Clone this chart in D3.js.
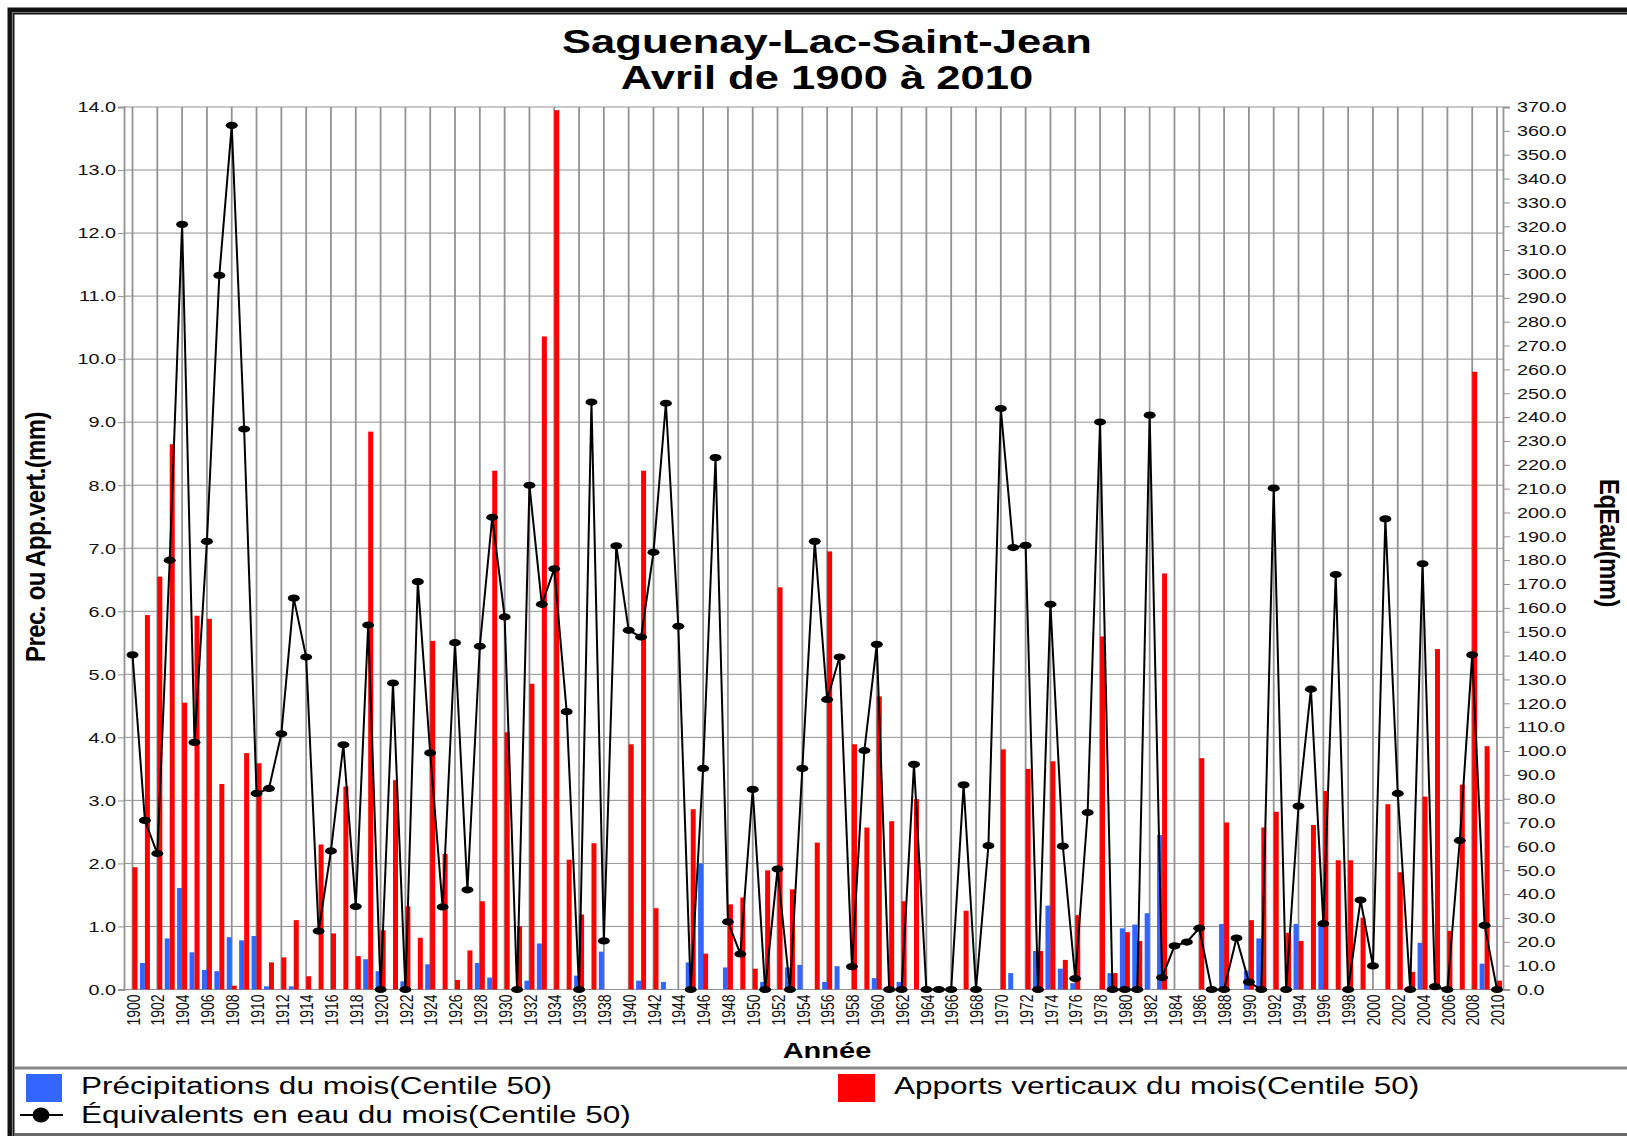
<!DOCTYPE html>
<html>
<head>
<meta charset="utf-8">
<script src="https://cdn.jsdelivr.net/npm/d3@7"></script>
<style>
  body { margin: 0; background: #fff; }
  svg { display: block; font-family: "Liberation Sans", Arial, sans-serif; }
</style>
</head>
<body>
<div id="chart"></div>
<script>
// Avril, 1900-2010
var years = d3.range(1900, 2011);

// Précipitations du mois (mm) - barres bleues
var precip = [
  0, 0.42, 0, 0.81, 1.61, 0.59, 0.31, 0.29, 0.83, 0.78,
  0.85, 0.05, 0, 0.05, 0, 0, 0, 0, 0, 0.48,
  0.29, 0, 0.13, 0, 0.40, 0, 0, 0, 0.42, 0.19,
  0, 0, 0.14, 0.73, 0, 0, 0.22, 0, 0.60, 0,
  0, 0.14, 0, 0.12, 0, 0.43, 2.00, 0, 0.35, 0,
  0, 0.12, 0, 0.35, 0.39, 0, 0.12, 0.37, 0, 0,
  0.18, 0, 0.12, 0, 0, 0, 0, 0, 0, 0,
  0, 0.26, 0, 0.61, 1.33, 0.33, 0.10, 0, 0, 0.26,
  0.97, 1.03, 1.21, 2.45, 0, 0, 0, 0, 1.04, 0,
  0.30, 0.81, 0, 0, 1.04, 0, 1.06, 0, 0, 0,
  0, 0, 0, 0, 0.74, 0, 0, 0, 0, 0.41,
  0
];

// Apports verticaux du mois (mm) - barres rouges
var apports = [
  1.94, 5.94, 6.55, 8.65, 4.55, 5.93, 5.88, 3.26, 0.06, 3.75,
  3.59, 0.43, 0.51, 1.10, 0.21, 2.30, 0.89, 3.22, 0.53, 8.85,
  0.94, 3.32, 1.32, 0.82, 5.53, 2.15, 0.15, 0.62, 1.40, 8.23,
  4.08, 1.00, 4.85, 10.36, 13.95, 2.06, 1.19, 2.32, 0, 0,
  3.89, 8.23, 1.29, 0, 0, 2.86, 0.57, 0, 1.35, 1.46,
  0.33, 1.89, 6.38, 1.59, 0, 2.33, 6.95, 0, 3.89, 2.57,
  4.65, 2.67, 1.40, 3.02, 0, 0, 0, 1.25, 0, 0,
  3.81, 0, 3.50, 0.61, 3.62, 0.47, 1.18, 0, 5.60, 0.26,
  0.91, 0.77, 0, 6.60, 0, 0, 3.67, 0, 2.65, 0,
  1.10, 2.57, 2.82, 0.90, 0.77, 2.61, 3.15, 2.05, 2.05, 1.14,
  0, 2.94, 1.86, 0.28, 3.06, 5.40, 0.93, 3.25, 9.80, 3.86,
  0.14
];

// Équivalents en eau du mois (mm) - ligne, axe de droite
var eqEau = [
  140.3, 70.9, 57.0, 180.0, 320.8, 103.6, 187.9, 299.4, 362.3, 235.0,
  82.2, 84.3, 107.2, 164.1, 139.4, 24.5, 58.1, 102.6, 34.8, 152.8,
  0, 128.5, 0, 171.0, 99.2, 34.6, 145.4, 41.8, 143.9, 198.0,
  156.2, 0, 211.4, 161.5, 176.4, 116.5, 0, 246.3, 20.4, 186.0,
  150.6, 147.8, 183.3, 245.8, 152.3, 0, 92.7, 223.0, 28.4, 14.9,
  83.9, 0, 50.5, 0, 92.7, 187.9, 121.6, 139.4, 9.6, 100.2,
  144.7, 0, 0, 94.4, 0, 0, 0, 85.8, 0, 60.3,
  243.6, 185.3, 186.2, 0, 161.5, 60.1, 4.6, 74.2, 237.9, 0,
  0, 0, 240.8, 5.0, 18.3, 19.9, 25.7, 0, 0, 21.6,
  3.1, 0, 210.2, 0, 76.9, 125.9, 27.6, 174.0, 0, 37.5,
  9.9, 197.3, 82.2, 0, 178.5, 1.2, 0, 62.5, 140.3, 26.9,
  0
];

var leftTicks = d3.range(0, 15, 1);
var rightTicks = d3.range(0, 380, 10);
var yearLabels = years.filter(function (d) { return d % 2 === 0; });

var titleLines = ["Saguenay-Lac-Saint-Jean", "Avril de 1900 à 2010"];
var legendNames = [
  "Précipitations du mois(Centile 50)",
  "Apports verticaux du mois(Centile 50)",
  "Équivalents en eau du mois(Centile 50)"
];

var W = 1627, H = 1136;
var SX = 1.32;   // the original picture is stretched horizontally
var plot = { left: 124, right: 1503, top: 107, bottom: 989.5 };
var blue = "#3366ff", red = "#ff0000", gridColor = "#939393";

var svg = d3.select("#chart").append("svg")
    .attr("width", W)
    .attr("height", H);

svg.append("rect").attr("width", W).attr("height", H).attr("fill", "#fff");

var x = d3.scalePoint()
    .domain(years)
    .range([132.5, 1497]);

var y = d3.scaleLinear()
    .domain([0, 14])
    .range([plot.bottom, plot.top]);

var y2 = d3.scaleLinear()
    .domain([0, 370])
    .range([plot.bottom, plot.top]);

function wideText(sel, tx, ty, extra, k) {
    sel.attr("transform", "translate(" + tx + "," + ty + ") scale(" + (k || SX) + ",1)" + (extra || ""));
    return sel;
}

// frame
svg.append("path")
    .attr("d", "M11,1136V11H1627")
    .attr("fill", "none")
    .attr("stroke", "#111")
    .attr("stroke-width", 7);
svg.append("path")
    .attr("d", "M12.5,1136V12.5H1627")
    .attr("fill", "none")
    .attr("stroke", "#777")
    .attr("stroke-width", 1.2);
svg.append("line")
    .attr("x1", 14).attr("x2", W).attr("y1", 1068).attr("y2", 1068)
    .attr("stroke", "#8a8a8a").attr("stroke-width", 3);
svg.append("line")
    .attr("x1", 14).attr("x2", W).attr("y1", 1134.5).attr("y2", 1134.5)
    .attr("stroke", "#6a6a6a").attr("stroke-width", 3);

// grid
svg.append("g").selectAll("line")
    .data(leftTicks)
    .enter().append("line")
    .attr("x1", plot.left).attr("x2", plot.right)
    .attr("y1", function (d) { return y(d); })
    .attr("y2", function (d) { return y(d); })
    .attr("stroke", gridColor).attr("stroke-width", 1);

svg.append("g").selectAll("line")
    .data(yearLabels)
    .enter().append("line")
    .attr("x1", function (d) { return x(d); })
    .attr("x2", function (d) { return x(d); })
    .attr("y1", plot.top).attr("y2", plot.bottom)
    .attr("stroke", gridColor).attr("stroke-width", 1.8);

// axes
var gLeft = svg.append("g")
    .attr("transform", "translate(" + plot.left + ",0)")
    .call(d3.axisLeft(y).tickValues(leftTicks).tickFormat(d3.format(".1f")).tickSize(6));

var gRight = svg.append("g")
    .attr("transform", "translate(" + plot.right + ",0)")
    .call(d3.axisRight(y2).tickValues(rightTicks).tickFormat(d3.format(".1f")).tickSize(7));

[gLeft, gRight].forEach(function (g) {
    g.select(".domain").attr("stroke", gridColor).attr("stroke-width", 1.8);
    g.selectAll(".tick line").attr("stroke", gridColor);
    g.selectAll("text")
        .style("font-family", "Liberation Sans, Arial, sans-serif")
        .style("font-size", "15px")
        .attr("fill", "#111");
});
gLeft.selectAll("text").attr("x", -8 / SX).attr("transform", "scale(" + SX + ",1)");
gRight.selectAll("text").attr("x", 14 / SX).attr("transform", "scale(" + SX + ",1)");

var gBottom = svg.append("g")
    .attr("transform", "translate(0," + plot.bottom + ")")
    .call(d3.axisBottom(x).tickValues(yearLabels).tickSize(0));
gBottom.select(".domain").remove();
gBottom.selectAll("text")
    .style("font-family", "Liberation Sans, Arial, sans-serif")
    .style("font-size", "14px")
    .attr("fill", "#111")
    .style("text-anchor", "end")
    .attr("x", -5)
    .attr("y", 0)
    .attr("dy", "0.36em")
    .attr("transform", "scale(" + SX + ",1) rotate(-90)");

// bars
var bars = svg.append("g");
bars.selectAll(".bleu")
    .data(precip)
    .enter().append("rect")
    .attr("class", "bleu")
    .attr("x", function (d, i) { return x(years[i]) - 5; })
    .attr("width", 5)
    .attr("y", function (d) { return y(d); })
    .attr("height", function (d) { return plot.bottom - y(d); })
    .attr("fill", blue);

bars.selectAll(".rouge")
    .data(apports)
    .enter().append("rect")
    .attr("class", "rouge")
    .attr("x", function (d, i) { return x(years[i]); })
    .attr("width", 5)
    .attr("y", function (d) { return y(d); })
    .attr("height", function (d) { return plot.bottom - y(d); })
    .attr("fill", red);

// line
var line = d3.line()
    .x(function (d, i) { return x(years[i]); })
    .y(function (d) { return y2(d); });

svg.append("path")
    .datum(eqEau)
    .attr("d", line)
    .attr("fill", "none")
    .attr("stroke", "#000")
    .attr("stroke-width", 2);

svg.append("g").selectAll("ellipse")
    .data(eqEau)
    .enter().append("ellipse")
    .attr("cx", function (d, i) { return x(years[i]); })
    .attr("cy", function (d) { return y2(d); })
    .attr("rx", 6)
    .attr("ry", 3.6)
    .attr("fill", "#000");

// titles
svg.selectAll(".title")
    .data(titleLines)
    .enter().append("text")
    .attr("class", "title")
    .attr("text-anchor", "middle")
    .style("font-size", "33px")
    .style("font-weight", "bold")
    .attr("fill", "#000")
    .each(function (d, i) { wideText(d3.select(this), 827, 53 + i * 36); })
    .text(function (d) { return d; });

wideText(svg.append("text"), 827, 1058)
    .attr("text-anchor", "middle")
    .style("font-size", "22px")
    .style("font-weight", "bold")
    .text("Année");

wideText(svg.append("text"), 45, 537, " rotate(-90)", 1.15)
    .attr("text-anchor", "middle")
    .style("font-size", "24px")
    .style("font-weight", "bold")
    .style("letter-spacing", "-0.6px")
    .text("Prec. ou App.vert.(mm)");

wideText(svg.append("text"), 1600, 543, " rotate(90)", 1.15)
    .attr("text-anchor", "middle")
    .style("font-size", "24px")
    .style("font-weight", "bold")
    .style("letter-spacing", "-0.6px")
    .text("EqEau(mm)");

// legend
var legend = svg.append("g");
legend.append("rect").attr("x", 26).attr("y", 1074).attr("width", 36).attr("height", 28).attr("fill", blue);
legend.append("rect").attr("x", 838).attr("y", 1074).attr("width", 37).attr("height", 28).attr("fill", red);
legend.append("line").attr("x1", 20).attr("x2", 63).attr("y1", 1115).attr("y2", 1115)
    .attr("stroke", "#000").attr("stroke-width", 2);
legend.append("ellipse").attr("cx", 41).attr("cy", 1115).attr("rx", 8.5).attr("ry", 7.5).attr("fill", "#000");

var legendPos = [[81, 1094], [894, 1094], [81, 1123]];
legend.selectAll("text")
    .data(legendNames)
    .enter().append("text")
    .style("font-size", "23px")
    .attr("fill", "#000")
    .each(function (d, i) { wideText(d3.select(this), legendPos[i][0], legendPos[i][1], "", 1.37); })
    .text(function (d) { return d; });
</script>
</body>
</html>
